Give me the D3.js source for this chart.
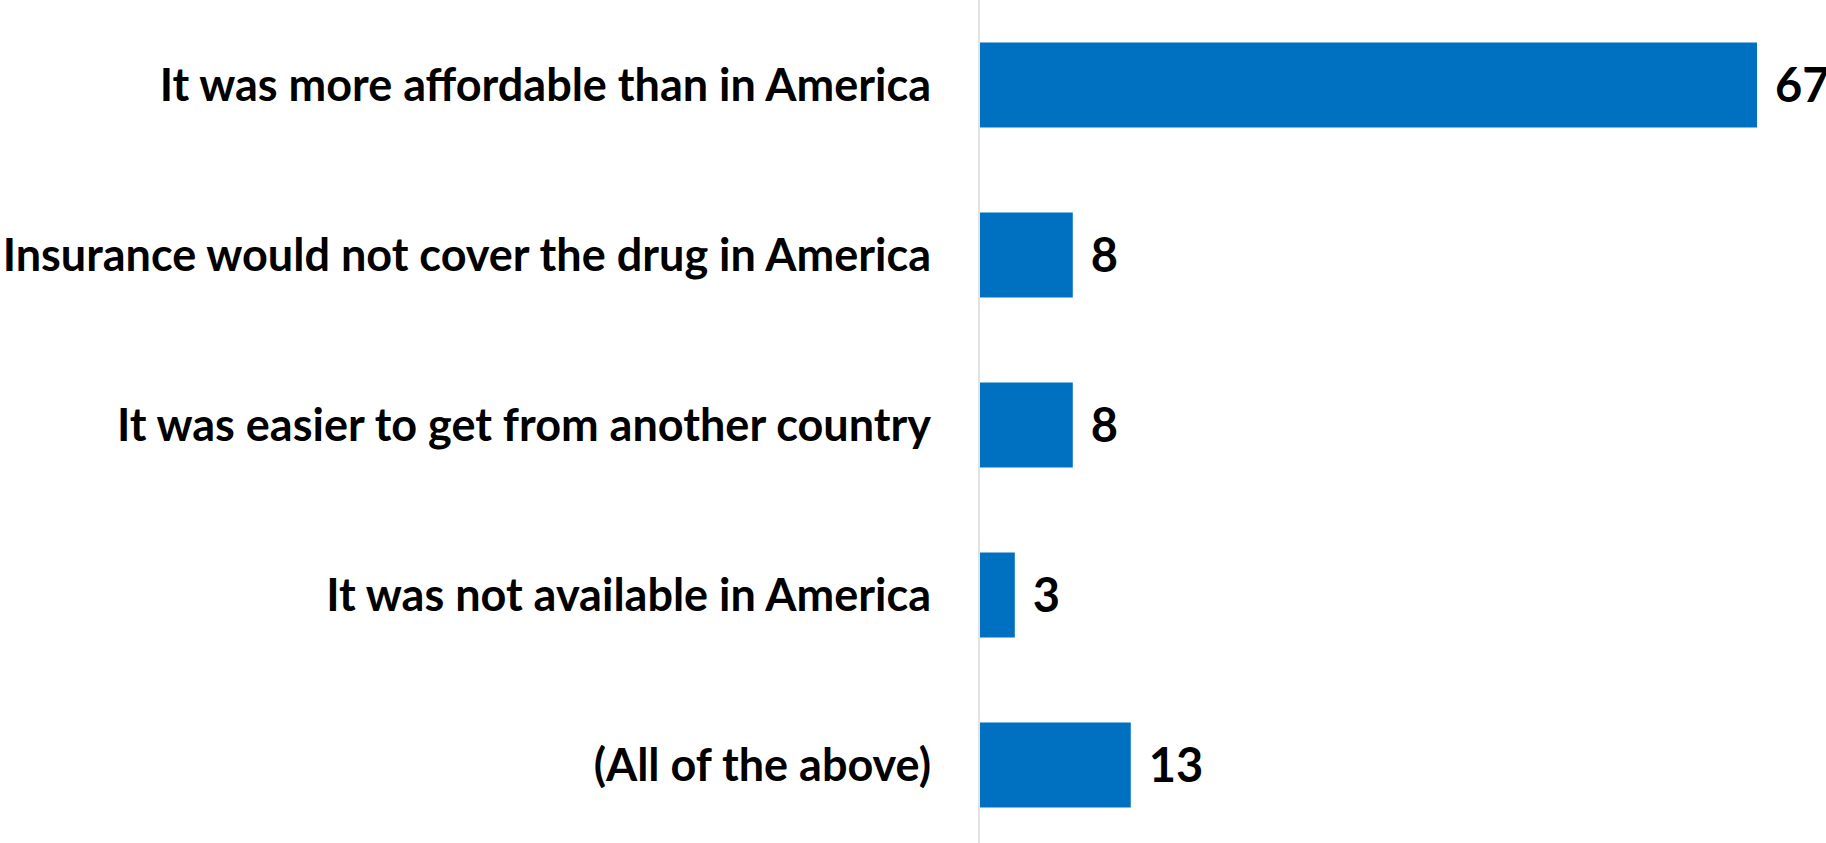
<!DOCTYPE html>
<html>
<head>
<meta charset="utf-8">
<script src="https://cdn.jsdelivr.net/npm/d3@7"></script>
<style>
  html, body { margin: 0; padding: 0; background: #ffffff; }
  svg { display: block; }
</style>
</head>
<body>
<svg id="chart" width="1826" height="843"></svg>
<script>
// Reasons for getting a prescription drug from another country (%)
const categories = [
  "It was more affordable than in America",
  "Insurance would not cover the drug in America",
  "It was easier to get from another country",
  "It was not available in America",
  "(All of the above)"
];
const values = [67, 8, 8, 3, 13];

const width = 1826, height = 843;
const axisX = 980;
const barColor = "#0070C0";
const fontFamily = "Lato, 'Open Sans', sans-serif";

const svg = d3.select("#chart");

const y = d3.scaleBand()
  .domain(categories)
  .range([0, 850])
  .paddingInner(0.5)
  .paddingOuter(0.25);

const x = d3.scaleLinear()
  .domain([0, 67])
  .range([axisX, 1757]);

// Bars
svg.append("g")
  .selectAll("rect")
  .data(categories)
  .join("rect")
  .attr("x", x(0))
  .attr("y", d => y(d))
  .attr("width", (d, i) => x(values[i]) - x(0))
  .attr("height", y.bandwidth())
  .attr("fill", barColor);

// Vertical baseline
svg.append("line")
  .attr("x1", axisX - 1).attr("x2", axisX - 1)
  .attr("y1", 0).attr("y2", height)
  .attr("stroke", "#d9d9d9")
  .attr("stroke-width", 1.5);

// Category labels
svg.append("g")
  .selectAll("text")
  .data(categories)
  .join("text")
  .attr("x", axisX - 49)
  .attr("y", d => y(d) + y.bandwidth() / 2)
  .attr("dy", "0.35em")
  .attr("text-anchor", "end")
  .attr("font-family", fontFamily)
  .attr("font-weight", 700)
  .attr("font-size", 45)
  .attr("fill", "#000")
  .text(d => d);

// Value labels (the widest one runs past the right edge)
svg.append("g")
  .selectAll("text")
  .data(categories)
  .join("text")
  .attr("x", (d, i) => x(values[i]) + 18)
  .attr("y", d => y(d) + y.bandwidth() / 2)
  .attr("dy", "0.36em")
  .attr("font-family", fontFamily)
  .attr("font-weight", 700)
  .attr("font-size", 47)
  .attr("fill", "#000")
  .text((d, i) => values[i]);
</script>
</body>
</html>
